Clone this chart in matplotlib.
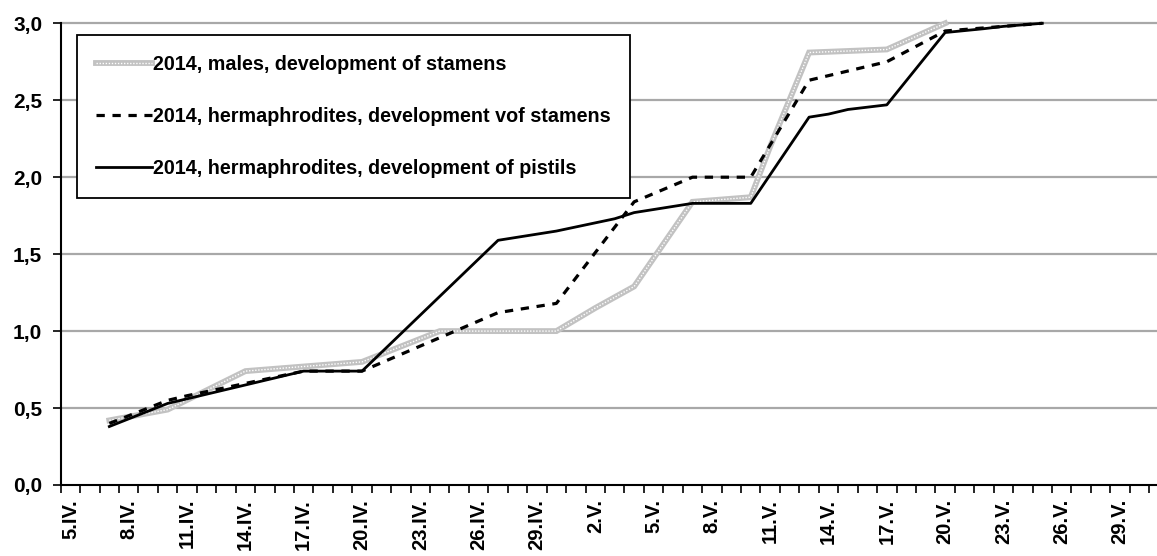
import matplotlib.pyplot as plt
from matplotlib.ticker import FixedLocator, FuncFormatter

plt.rcParams["font.family"] = ["Liberation Sans", "DejaVu Sans"]
plt.rcParams["font.weight"] = "bold"

# categories: one per day
DAYS = [f"{d}.IV." for d in range(5, 31)] + [f"{d}.V." for d in range(1, 31)]

MALE_DAYS = ["7.IV.", "10.IV.", "14.IV.", "17.IV.", "20.IV.", "24.IV.", "30.IV.",
             "2.V.", "4.V.", "7.V.", "10.V.", "11.V.", "13.V.", "17.V.", "20.V."]
MALE_VALS = [0.42, 0.49, 0.74, 0.77, 0.80, 1.00, 1.00,
             1.15, 1.29, 1.84, 1.87, 2.20, 2.81, 2.83, 3.00]

HST_DAYS = ["7.IV.", "10.IV.", "11.IV.", "17.IV.", "20.IV.", "27.IV.", "30.IV.",
            "4.V.", "7.V.", "10.V.", "13.V.", "17.V.", "20.V.", "25.V."]
HST_VALS = [0.40, 0.55, 0.58, 0.74, 0.74, 1.12, 1.18,
            1.84, 2.00, 2.00, 2.63, 2.75, 2.95, 3.00]

PIS_DAYS = ["7.IV.", "10.IV.", "17.IV.", "20.IV.", "27.IV.", "30.IV.", "3.V.",
            "4.V.", "7.V.", "10.V.", "13.V.", "14.V.", "15.V.", "17.V.", "20.V.",
            "22.V.", "23.V.", "25.V."]
PIS_VALS = [0.38, 0.53, 0.74, 0.74, 1.59, 1.65, 1.73,
            1.77, 1.83, 1.83, 2.39, 2.41, 2.44, 2.47, 2.94,
            2.965, 2.98, 3.00]

LABELS = ["2014, males, development of stamens",
          "2014, hermaphrodites, development vof stamens",
          "2014, hermaphrodites, development of pistils"]


def idx(days):
    return [DAYS.index(d) for d in days]


fig = plt.figure(figsize=(11.57, 5.56), dpi=100)
ax = fig.add_axes([0.0525, 0.1277, 0.9475, 0.8304])

ax.set_xlim(-0.5, 55.9)
ax.set_ylim(0, 3.0)

for v in [0.5, 1.0, 1.5, 2.0, 2.5, 3.0]:
    ax.axhline(v, color="#a8a8a8", lw=1.6, zorder=1, clip_on=False)

m_base, = ax.plot(idx(MALE_DAYS), MALE_VALS, color="#c2c2c2", lw=4.2,
                  solid_joinstyle="miter", zorder=3, clip_on=False)
m_tex, = ax.plot(idx(MALE_DAYS), MALE_VALS, color="white", lw=1.0,
                 ls=(0, (1, 1.2)), zorder=3.1, clip_on=False)
h_line, = ax.plot(idx(HST_DAYS), HST_VALS, color="black", lw=2.3,
                  ls=(0, (2.6, 2.4)), zorder=4, clip_on=False)
p_line, = ax.plot(idx(PIS_DAYS), PIS_VALS, color="black", lw=2.0,
                  zorder=5, clip_on=False)

ax.spines[["top", "right"]].set_visible(False)
ax.spines["left"].set_linewidth(1.5)
ax.spines["bottom"].set_linewidth(1.5)

ax.yaxis.set_major_locator(FixedLocator([0, 0.5, 1.0, 1.5, 2.0, 2.5, 3.0]))
ax.yaxis.set_major_formatter(FuncFormatter(lambda v, p: f"{v:.1f}".replace(".", ",")))
ax.tick_params(axis="y", direction="out", length=5.8, width=1.2, pad=7.5,
               labelsize=15)

label_pos = list(range(0, len(DAYS), 3))
ax.set_xticks(label_pos, [DAYS[i] for i in label_pos], rotation=90,
              fontsize=14.5, fontweight="bold")
ax.tick_params(axis="x", which="major", length=0, pad=10)
ax.xaxis.set_minor_locator(FixedLocator([i - 0.5 for i in range(len(DAYS) + 1)]))
ax.tick_params(axis="x", which="minor", direction="out", length=5.8, width=1.2)
for t in ax.get_xticklabels():
    t.set_va("top")

leg = ax.legend([(m_base, m_tex), h_line, p_line], LABELS,
                loc="upper left", bbox_to_anchor=(0.0146, 0.975),
                borderaxespad=0, frameon=True, fancybox=False, fontsize=14.2,
                handlelength=2.8, handletextpad=0.05, labelspacing=1.68,
                borderpad=1.0)
leg.get_frame().set_edgecolor("black")
leg.get_frame().set_linewidth(1.3)
leg.get_frame().set_alpha(1)
for t in leg.get_texts():
    t.set_fontweight("bold")

fig.savefig("out.png", dpi=100)
